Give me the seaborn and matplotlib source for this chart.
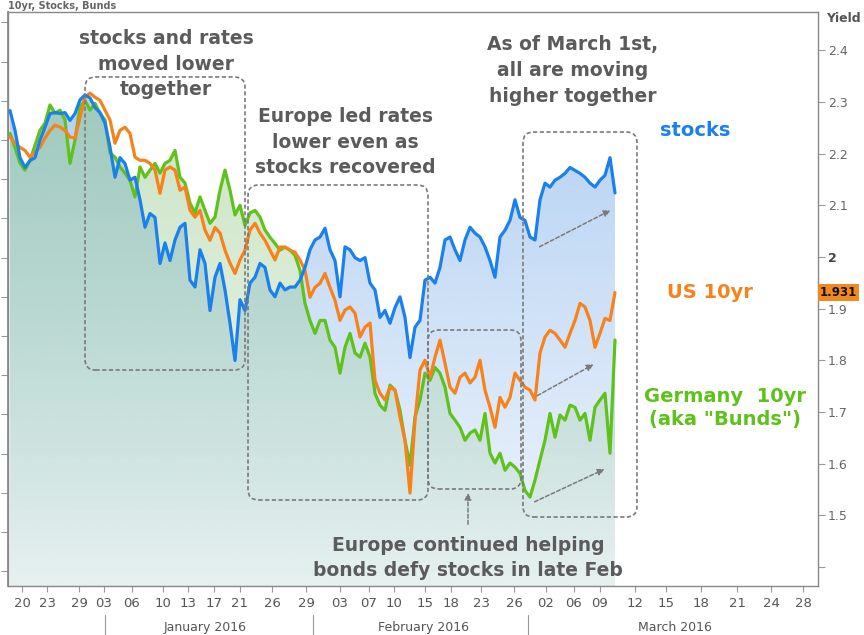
import numpy as np
import matplotlib.pyplot as plt
import seaborn as sns
from matplotlib.patches import FancyBboxPatch
import matplotlib.colors as mcolors

OUT_PATH = "out.png"

# intraday samples, mid Dec 2015 -> Mar 10 2016 (one sample per step)
stocks = [2070, 2050, 2022, 2012, 2019, 2022, 2040, 2053, 2067, 2068,
          2067, 2068, 2060, 2067, 2081, 2086, 2083, 2073, 2068, 2057,
          2033, 2002, 2022, 2016, 1999, 2002, 1979, 1951, 1965, 1961,
          1914, 1935, 1917, 1938, 1951, 1955, 1897, 1890, 1928, 1914,
          1866, 1900, 1914, 1887, 1853, 1815, 1877, 1866, 1894, 1900,
          1914, 1910, 1887, 1880, 1894, 1887, 1890, 1890, 1897, 1910,
          1928, 1938, 1941, 1950, 1928, 1917, 1880, 1931, 1928, 1920,
          1917, 1920, 1894, 1887, 1859, 1866, 1853, 1869, 1880, 1859,
          1818, 1849, 1856, 1897, 1900, 1894, 1910, 1938, 1941, 1928,
          1917, 1938, 1951, 1945, 1941, 1931, 1917, 1900, 1941, 1948,
          1958, 1979, 1961, 1958, 1941, 1938, 1979, 1996, 1992, 1999,
          2002, 2006, 2012, 2009, 2006, 2002, 1996, 1992, 1999, 2004,
          2022, 1986]

us10 = [2.232, 2.220, 2.212, 2.206, 2.193, 2.203, 2.212, 2.230, 2.245, 2.255,
        2.251, 2.245, 2.232, 2.230, 2.270, 2.309, 2.317, 2.309, 2.303, 2.284,
        2.265, 2.220, 2.245, 2.251, 2.239, 2.193, 2.187, 2.187, 2.181, 2.168,
        2.123, 2.168, 2.174, 2.168, 2.129, 2.135, 2.090, 2.077, 2.090, 2.052,
        2.032, 2.057, 2.046, 2.013, 1.988, 1.968, 1.994, 2.013, 2.052, 2.065,
        2.046, 2.032, 2.013, 1.994, 2.019, 2.019, 2.013, 2.009, 1.994, 1.974,
        1.922, 1.941, 1.949, 1.968, 1.941, 1.916, 1.877, 1.897, 1.903, 1.891,
        1.845, 1.864, 1.872, 1.761, 1.736, 1.723, 1.748, 1.742, 1.690, 1.645,
        1.543, 1.684, 1.781, 1.800, 1.767, 1.806, 1.839, 1.794, 1.748, 1.736,
        1.767, 1.775, 1.756, 1.767, 1.800, 1.742, 1.709, 1.670, 1.728, 1.709,
        1.728, 1.775, 1.761, 1.748, 1.742, 1.723, 1.814, 1.845, 1.858, 1.852,
        1.839, 1.825, 1.852, 1.877, 1.910, 1.903, 1.877, 1.825, 1.852, 1.881,
        1.877, 1.931]

bund = [2.239, 2.212, 2.181, 2.168, 2.187, 2.216, 2.245, 2.259, 2.294, 2.278,
        2.284, 2.265, 2.181, 2.226, 2.290, 2.303, 2.284, 2.297, 2.278, 2.265,
        2.201, 2.193, 2.174, 2.162, 2.148, 2.116, 2.174, 2.154, 2.168, 2.181,
        2.162, 2.181, 2.187, 2.206, 2.154, 2.143, 2.104, 2.085, 2.116, 2.090,
        2.065, 2.077, 2.129, 2.168, 2.129, 2.081, 2.100, 2.061, 2.085, 2.090,
        2.077, 2.052, 2.038, 2.026, 2.013, 2.019, 2.013, 2.003, 1.974, 1.910,
        1.877, 1.852, 1.877, 1.877, 1.839, 1.825, 1.775, 1.825, 1.852, 1.814,
        1.806, 1.833, 1.806, 1.736, 1.713, 1.703, 1.752, 1.742, 1.703, 1.645,
        1.597, 1.690, 1.723, 1.775, 1.761, 1.786, 1.775, 1.748, 1.697, 1.684,
        1.670, 1.645, 1.659, 1.665, 1.645, 1.697, 1.620, 1.601, 1.620, 1.587,
        1.601, 1.593, 1.581, 1.548, 1.535, 1.568, 1.607, 1.645, 1.697, 1.651,
        1.694, 1.684, 1.713, 1.709, 1.684, 1.697, 1.645, 1.709, 1.723, 1.736,
        1.620, 1.839]

last_us10 = "1.931"

tick_pos = [2.4, 7.4, 13.8, 18.8, 24.4, 30.6, 35.6, 40.8, 46, 52.4, 59.2,
            66, 71.8, 76.8, 83, 88.2, 94.2, 100.8,
            107.2, 112.8, 118, 125, 131.2, 138.2, 145.4, 152.2, 158.6]
tick_labels = ["20", "23", "29", "03", "06", "10", "13", "17", "21", "26", "29",
               "03", "07", "10", "15", "18", "23", "26",
               "02", "06", "09", "12", "15", "18", "21", "24", "28"]
months = ["January 2016", "February 2016", "March 2016"]
month_centers = [39, 82.6, 133]
month_breaks = [19, 60.6, 103.6]

yield_ticks = [1.4, 1.5, 1.6, 1.7, 1.8, 1.9, 2.0, 2.1, 2.2, 2.3, 2.4]
yield_labels = ["", "1.5", "1.6", "1.7", "1.8", "1.9", "2", "2.1", "2.2", "2.3", "2.4"]
stock_ticks = np.arange(1600, 2200, 40)

BLUE = "#1a80ec"
ORANGE = "#f7821b"
GREEN = "#5ec21b"
GREY_TXT = "#5b5b5b"
BOX = "#7a7a7a"

YMIN, YMAX = 1.363, 2.474


def to_yield(s):
    return 1.771 + (np.asarray(s, dtype=float) - 1800) * 0.0018967


def to_stock(y):
    return 1800 + (np.asarray(y, dtype=float) - 1.771) / 0.0018967


def gradient_area(ax, x, y, color, a_top, a_bot, z):
    fill = ax.fill_between(x, y, YMIN, facecolor="none", edgecolor="none")
    rgb = mcolors.to_rgb(color)
    grad = np.zeros((256, 1, 4))
    grad[:, 0, :3] = rgb
    grad[:, 0, 3] = np.linspace(a_bot, a_top, 256)
    img = ax.imshow(grad, extent=[x[0], x[-1], YMIN, YMAX], origin="lower",
                    aspect="auto", zorder=z, interpolation="bilinear")
    img.set_clip_path(fill.get_paths()[0], transform=ax.transData)


def dashed_box(ax, x0, y0, x1, y1):
    aspect = 810 / 574
    box = FancyBboxPatch((x0, y0), x1 - x0, y1 - y0,
                         boxstyle="round,pad=0,rounding_size=0.013",
                         mutation_aspect=aspect, transform=ax.transAxes,
                         fill=False, edgecolor=BOX, linewidth=1.2,
                         linestyle=(0, (2.5, 1.5)), zorder=6, clip_on=False)
    ax.add_patch(box)


def dashed_arrow(ax, start, end):
    ax.annotate("", xy=end, xytext=start, xycoords="axes fraction",
                textcoords="axes fraction", zorder=7,
                arrowprops=dict(arrowstyle="-|>", color=BOX, lw=1.1,
                                linestyle=(0, (2.5, 1.5)), mutation_scale=10))


def main():
    sns.set_theme(style="white")
    plt.rcParams["font.family"] = ["DejaVu Sans"]

    x = np.arange(len(us10))
    stocks_y = to_yield(stocks)

    fig = plt.figure(figsize=(8.64, 6.35), dpi=100)
    ax = fig.add_axes([8 / 864, 1 - 586 / 635, 810 / 864, 574 / 635])

    gradient_area(ax, x, stocks_y, "#76aae8", 0.62, 0.10, 1)
    gradient_area(ax, x, np.array(bund), "#86c27a", 0.50, 0.10, 2)

    sns.lineplot(x=x, y=bund, ax=ax, color=GREEN, linewidth=2.3, zorder=4)
    sns.lineplot(x=x, y=us10, ax=ax, color=ORANGE, linewidth=2.3, zorder=4)
    sns.lineplot(x=x, y=stocks_y, ax=ax, color=BLUE, linewidth=2.3, zorder=5)

    ax.set_xlim(-0.4, 161.6)
    ax.set_ylim(YMIN, YMAX)
    ax.set_xlabel("")
    ax.set_ylabel("")

    # x axis
    ax.set_xticks(tick_pos)
    ax.set_xticklabels(tick_labels)
    ax.tick_params(axis="x", bottom=True, direction="out", length=4, width=0.8,
                   color="#999999", labelsize=9.5, labelcolor="#555555", pad=4)
    tr = ax.get_xaxis_transform()
    for xb in month_breaks:
        ax.plot([xb, xb], [-0.05, -0.088], transform=tr, color="#999999",
                lw=0.8, clip_on=False)
    for xc, name in zip(month_centers, months):
        ax.text(xc, -0.072, name, transform=tr, ha="center", va="center",
                fontsize=9, color="#555555")

    # right yield axis
    ax.yaxis.tick_right()
    ax.set_yticks(yield_ticks)
    ax.set_yticklabels(yield_labels)
    ax.tick_params(axis="y", right=True, direction="out", length=5, width=0.8,
                   color="#999999", labelsize=9, labelcolor="#666666", pad=2)
    for lab in ax.get_yticklabels():
        if lab.get_text() == "2":
            lab.set_fontweight("bold")
            lab.set_color("#444444")
    fig.text(826 / 864, 1 - 18 / 635, "Yield", fontsize=9, fontweight="bold",
             color="#555555", va="center", ha="left")
    ax.text(1.0025, float(last_us10), last_us10, transform=ax.get_yaxis_transform(),
            ha="left", va="center", fontsize=8.5, fontweight="bold", color="#111111",
            zorder=10, clip_on=False,
            bbox=dict(boxstyle="square,pad=0.15", facecolor="#f08a1e", edgecolor="none"))

    # left stocks axis (labels cut off in the source)
    sec = ax.secondary_yaxis("left", functions=(to_stock, to_yield))
    sec.set_yticks(stock_ticks)
    sec.set_yticklabels([])
    sec.tick_params(direction="out", length=5, width=0.8, color="#999999")
    sec.spines["left"].set_color("#888888")

    for sp in ax.spines.values():
        sp.set_visible(True)
        sp.set_color("#888888")
        sp.set_linewidth(1.0)

    fig.text(8 / 864, 1 - 1 / 635, "10yr, Stocks, Bunds", fontsize=7, fontweight="bold",
             color="#666666", va="top", ha="left")

    # annotation boxes and arrows
    dashed_box(ax, 0.0951, 0.3763, 0.2926, 0.8868)
    dashed_box(ax, 0.2963, 0.1498, 0.5185, 0.6986)
    dashed_box(ax, 0.5185, 0.1690, 0.6333, 0.4460)
    dashed_box(ax, 0.6358, 0.1202, 0.7765, 0.7909)

    dashed_arrow(ax, (0.6531, 0.5888), (0.7469, 0.6568))
    dashed_arrow(ax, (0.6506, 0.3293), (0.7259, 0.3885))
    dashed_arrow(ax, (0.6469, 0.1446), (0.7395, 0.2056))
    dashed_arrow(ax, (0.5679, 0.1028), (0.5679, 0.1672))

    note = dict(ha="center", va="center", fontsize=13.5, fontweight="bold",
                color=GREY_TXT, linespacing=1.45, zorder=8)
    ax.text(31.2, 2.373, "stocks and rates\nmoved lower\ntogether", **note)
    ax.text(67, 2.222, "Europe led rates\nlower even as\nstocks recovered", **note)
    ax.text(112.6, 2.361, "As of March 1st,\nall are moving\nhigher together", **note)
    ax.text(91.6, 1.417, "Europe continued helping\nbonds defy stocks in late Feb", **note)

    ax.text(137, 2.245, "stocks", ha="center", va="center", fontsize=14,
            fontweight="bold", color=BLUE)
    ax.text(140, 1.932, "US 10yr", ha="center", va="center", fontsize=14,
            fontweight="bold", color=ORANGE)
    ax.text(143, 1.707, "Germany  10yr\n(aka \"Bunds\")", ha="center", va="center",
            fontsize=14, fontweight="bold", color=GREEN, linespacing=1.25)

    fig.savefig(OUT_PATH, dpi=100)


if __name__ == "__main__":
    main()
